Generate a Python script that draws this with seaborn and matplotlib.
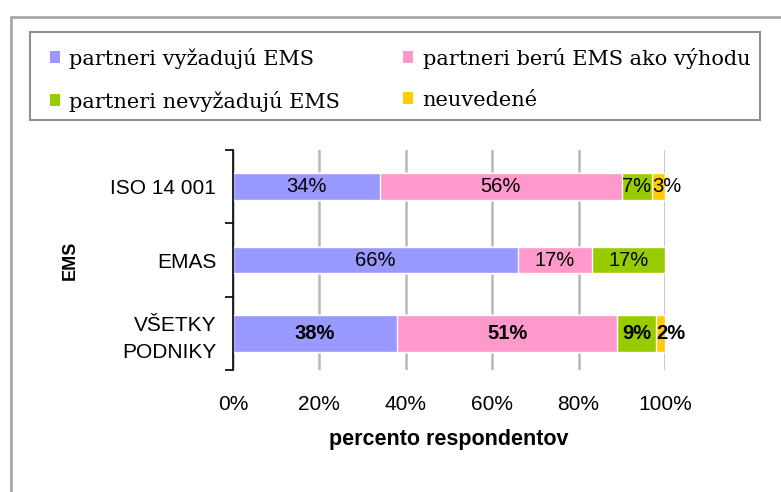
import matplotlib
matplotlib.use("Agg")
from matplotlib import pyplot as plt
from matplotlib.patches import Rectangle, Patch
import pandas as pd
import seaborn as sns
import numpy as np

# data (percent of respondents)
categories = ["ISO 14 001", "EMAS", "VŠETKY\nPODNIKY"]
series = ["partneri vyžadujú EMS", "partneri berú EMS ako výhodu",
          "partneri nevyžadujú EMS", "neuvedené"]
vyzaduju = [34, 66, 38]
beru = [56, 17, 51]
nevyzaduju = [7, 17, 9]
neuvedene = [3, 0, 2]
colors = ["#9999FF", "#FF99CC", "#99CC00", "#FFCC00"]

sns.set_style("white")
plt.rcParams["font.family"] = ["Liberation Sans", "DejaVu Sans"]
plt.rcParams["text.color"] = "black"
plt.rcParams["axes.labelcolor"] = "black"
plt.rcParams["xtick.color"] = "black"
plt.rcParams["ytick.color"] = "black"

values = np.array([vyzaduju, beru, nevyzaduju, neuvedene], dtype=float)
cum = values.cumsum(axis=0)
df = pd.DataFrame({"kategoria": categories})
for i, name in enumerate(series):
    df[name] = cum[i]

fig = plt.figure(figsize=(7.81, 4.92), dpi=100)
ax = fig.add_axes([233 / 781, 1 - 370 / 492, 432 / 781, 220 / 492])

# stacked bars: draw cumulative totals from the last series back to the first
for i in range(len(series) - 1, -1, -1):
    before = len(ax.patches)
    sns.barplot(data=df, x=series[i], y="kategoria", orient="h", color=colors[i],
                saturation=1, width=0.36, edgecolor="white", linewidth=1, ax=ax)
    # the last row is drawn thicker in the original
    for p in ax.patches[before:]:
        yc = p.get_y() + p.get_height() / 2
        if abs(yc - 2) < 0.3:
            p.set_height(0.5)
            p.set_y(2 - 0.25)

# value labels
for r, cat in enumerate(categories):
    weight = "bold" if r == 2 else "normal"
    for i in range(len(series)):
        v = values[i, r]
        if v <= 0:
            continue
        if i == len(series) - 1:
            # tiny last segment: label starts at the segment
            ax.text(cum[i, r] - v, r, "%d%%" % v, ha="left", va="center",
                    fontsize=14.5, fontweight=weight, color="black")
        else:
            ax.text(cum[i, r] - v / 2, r, "%d%%" % v, ha="center", va="center",
                    fontsize=14.5, fontweight=weight, color="black")

ax.set_xlim(0, 100)
ax.set_ylim(2.5, -0.5)
ax.set_xticks([0, 20, 40, 60, 80, 100])
ax.set_xticklabels(["0%", "20%", "40%", "60%", "80%", "100%"], fontsize=15)
ax.set_yticks([0, 1, 2])
ax.set_yticklabels(categories, fontsize=15, linespacing=1.5)
ax.set_yticks([-0.5, 0.5, 1.5, 2.5], minor=True)
ax.tick_params(axis="y", which="major", length=0, pad=12)
ax.tick_params(axis="y", which="minor", length=6, width=1.2, color="black", left=True)
ax.tick_params(axis="x", length=0, pad=18)
ax.xaxis.grid(True, color="#b8b8b8", linewidth=1.8)
ax.set_axisbelow(True)
for s in ["top", "right", "bottom"]:
    ax.spines[s].set_visible(False)
ax.spines["left"].set_color("black")
ax.spines["left"].set_linewidth(1.2)

ax.set_xlabel("percento respondentov", fontsize=15.5, fontweight="bold", labelpad=11)
ax.set_ylabel("EMS", fontsize=13, fontweight="bold", labelpad=23)

# legend (rows: first two series, then the other two)
handles = [Patch(facecolor=c, edgecolor="none") for c in colors]
order = [0, 2, 1, 3]
fig.legend([handles[i] for i in order], [series[i] for i in order],
           loc="upper left", ncol=2, bbox_to_anchor=(33 / 781, 1 - 31 / 492),
           prop={"family": "DejaVu Serif", "size": 15},
           handlelength=0.5, handleheight=0.5, handletextpad=0.45,
           frameon=False, borderpad=0.3, labelspacing=1.05, columnspacing=3.0)
fig.patches.append(Rectangle((30 / 781, 1 - 120 / 492), 730 / 781, 88 / 492,
                             transform=fig.transFigure, fill=False,
                             edgecolor="#909090", linewidth=1.5))

# outer frame of the chart area
fig.patches.append(Rectangle((11 / 781, -0.1), 1.2, 1 - 17 / 492 + 0.1,
                             transform=fig.transFigure, fill=False,
                             edgecolor="#a8a8a8", linewidth=2))

fig.savefig("out.png", dpi=100)
